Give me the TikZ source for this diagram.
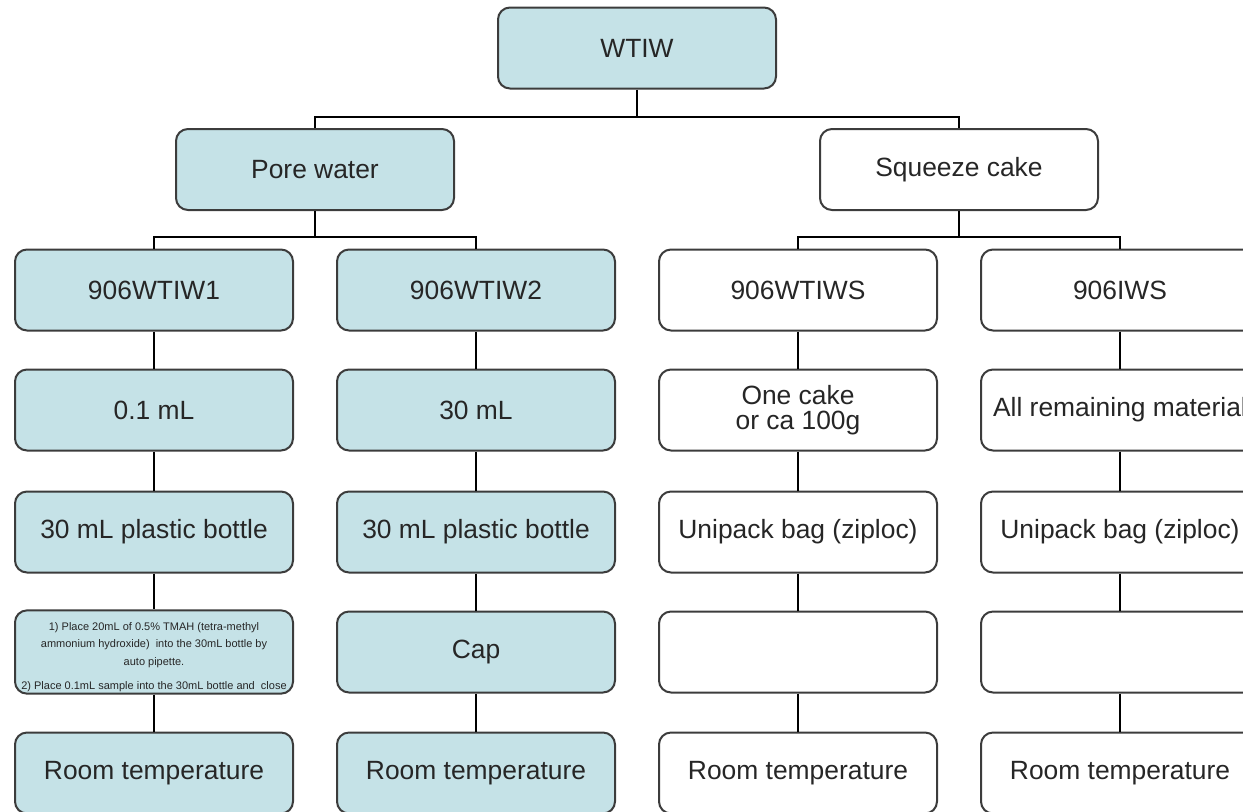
\documentclass[tikz,border=0pt]{standalone}
\usepackage{fontspec}
\setmainfont{Liberation Sans}
\usetikzlibrary{positioning}
\definecolor{boxfill}{RGB}{197,226,231}
\definecolor{boxline}{RGB}{60,60,60}
\definecolor{boxtext}{RGB}{38,38,38}

\tikzset{
  chart/.style={draw=boxline, line width=1pt, rounded corners=6pt,
    minimum width=139pt, minimum height=40.5pt, align=center, inner sep=1pt,
    text=boxtext, font=\fontsize{13.2pt}{12.8pt}\selectfont},
  wet/.style={chart, fill=boxfill},
  dry/.style={chart, fill=white},
  link/.style={line width=1pt, black}
}

\begin{document}
\begin{tikzpicture}[x=0.5pt,y=-0.5pt]
    \useasboundingbox (0,0) rectangle (1243,811);
    \clip (0,0) rectangle (1243,811);
    % top levels
    \node[wet] (wtiw) at (637,48) {WTIW};
    \node[wet] (pore) at (315,169.5) {Pore water};
    \node[dry] (cake) at (959,169.5) {Squeeze cake};
    \coordinate (split) at (637,117);
    \coordinate (poresplit) at (315,237);
    \coordinate (cakesplit) at (959,237);
    % pore water samples
    \node[wet] (iw1) at (154,290) {906WTIW1};
    \node[wet] (iw1-vol) at (154,410) {0.1 mL};
    \node[wet] (iw1-can) at (154,532) {30 mL plastic bottle};
    \node[wet, font=\fontsize{5.5pt}{8.75pt}\selectfont] (iw1-prep) at (154,652)
         {\rule{0pt}{9pt}1) Place 20mL of 0.5\% TMAH (tetra-methyl\\ ammonium hydroxide)\ \ into the 30mL bottle by\\ auto pipette.\\[3.25pt]
          2) Place 0.1mL sample into the 30mL bottle and\ \ close};
    \node[wet] (iw1-temp) at (154,773) {Room temperature};
    \node[wet] (iw2) at (476,290) {906WTIW2};
    \node[wet] (iw2-vol) at (476,410) {30 mL};
    \node[wet] (iw2-can) at (476,532) {30 mL plastic bottle};
    \node[wet] (iw2-prep) at (476,652) {Cap};
    \node[wet] (iw2-temp) at (476,773) {Room temperature};
    % squeeze cake samples
    \node[dry] (iws) at (798,290) {906WTIWS};
    \node[dry] (iws-vol) at (798,410) {One cake\\ or ca 100g};
    \node[dry] (iws-can) at (798,532) {Unipack bag (ziploc)};
    \node[dry] (iws-prep) at (798,652) {};
    \node[dry] (iws-temp) at (798,773) {Room temperature};
    \node[dry] (ws) at (1120,290) {906IWS};
    \node[dry] (ws-vol) at (1120,410) {All remaining material};
    \node[dry] (ws-can) at (1120,532) {Unipack bag (ziploc)};
    \node[dry] (ws-prep) at (1120,652) {};
    \node[dry] (ws-temp) at (1120,773) {Room temperature};
    % tree lines
    \draw[link] (wtiw) -- (split) -| (pore);
    \draw[link] (split) -| (cake);
    \draw[link] (pore) -- (poresplit) -| (iw1);
    \draw[link] (poresplit) -| (iw2);
    \draw[link] (cake) -- (cakesplit) -| (iws);
    \draw[link] (cakesplit) -| (ws);
    \foreach \c in {iw1,iw2,iws,ws}
      \draw[link] (\c) -- (\c-vol) -- (\c-can) -- (\c-prep) -- (\c-temp);
\end{tikzpicture}
\end{document}
